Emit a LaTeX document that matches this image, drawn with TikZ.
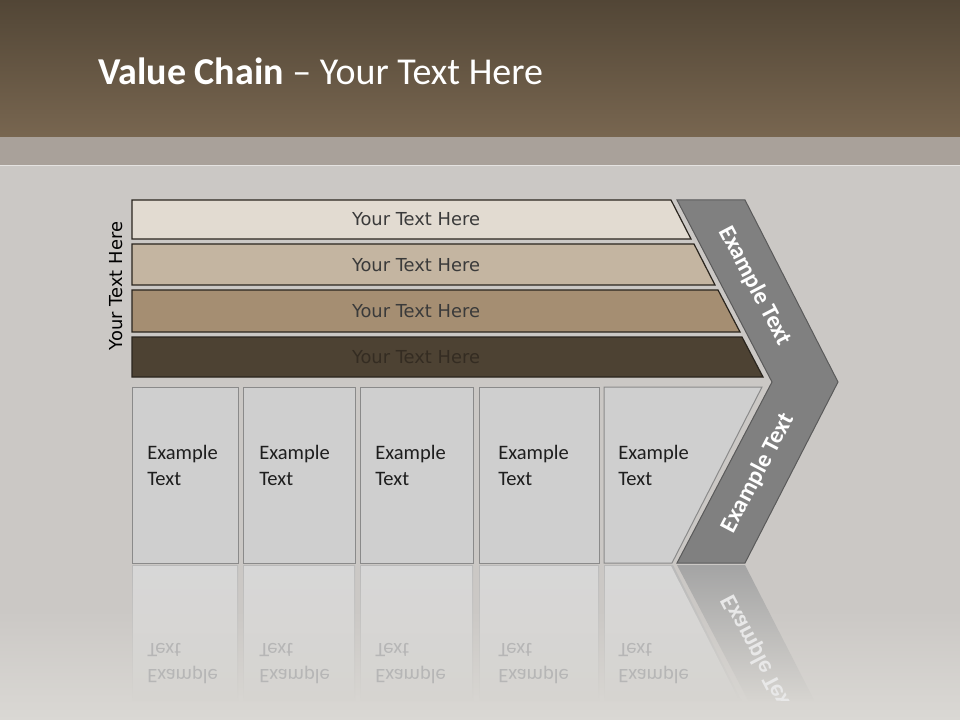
\documentclass[tikz,border=0pt]{standalone}
\usepackage{fontspec}
\setmainfont{Carlito}
\newfontfamily\verd{DejaVu Sans}
\usetikzlibrary{calc}
\definecolor{hdtop}{HTML}{524636}
\definecolor{hdbot}{HTML}{786650}
\definecolor{band}{HTML}{A9A19A}
\definecolor{bg}{HTML}{CBC8C5}
\definecolor{bgl}{HTML}{DAD8D4}
\definecolor{barA}{HTML}{E2DBD1}
\definecolor{barB}{HTML}{C4B5A1}
\definecolor{barC}{HTML}{A58E72}
\definecolor{barD}{HTML}{4D4233}
\definecolor{barln}{HTML}{2A251E}
\definecolor{bartx}{HTML}{3A3A3A}
\definecolor{bartxd}{HTML}{342C22}
\definecolor{boxf}{HTML}{CFCFCF}
\definecolor{boxln}{HTML}{8A8A8A}
\definecolor{boxtx}{HTML}{1E1E1E}
\definecolor{chev}{HTML}{808080}
\definecolor{chevln}{HTML}{5A5A5A}
\definecolor{refedge}{HTML}{B9B9B9}
\definecolor{reffill}{HTML}{D7D7D7}
\definecolor{refend}{HTML}{D6D4D0}
\definecolor{reftx}{HTML}{B6B6B6}
\definecolor{refchev}{HTML}{A4A4A4}
\tikzset{
  barshape/.style={draw=barln, line width=0.9pt},
  bartext/.style={font=\verd\fontsize{13.4}{16}\selectfont, text=bartx, inner sep=0pt},
  boxshape/.style={draw=boxln, fill=boxf, line width=0.75pt},
  boxtext/.style={font=\fontsize{15.4}{18}\selectfont, text=boxtx, anchor=base west, inner sep=0pt},
  reftext/.style={font=\fontsize{15.4}{18}\selectfont, text=reftx, anchor=base west, inner sep=0pt},
  chevtext/.style={font=\bfseries\fontsize{18}{21}\selectfont, text=white, inner sep=0pt},
}
\begin{document}
\begin{tikzpicture}[x=0.75pt,y=-0.75pt]
\useasboundingbox (0,0) rectangle (960,720);
% background
\fill[bg] (0,166) rectangle (960,720);
\shade[top color=bg, bottom color=bgl] (0,610) rectangle (960,720);
% header
\shade[top color=hdtop, bottom color=hdbot] (0,0) rectangle (960,137);
\fill[band] (0,137) rectangle (960,166);
\draw[white!70!band, line width=0.75pt] (0,166) -- (960,166);
\node[anchor=base west, text=white, font=\fontsize{28.5}{33}\selectfont, inner sep=0pt] (title) at (98,85) {\textbf{Value Chain} – Your Text Here};

% bars
\draw[barshape, fill=barA] (132,200) -- (671,200) -- (691,239) -- (132,239) -- cycle;
\draw[barshape, fill=barB] (132,244) -- (694,244) -- (715,285) -- (132,285) -- cycle;
\draw[barshape, fill=barC] (132,290) -- (718,290) -- (740,332) -- (132,332) -- cycle;
\draw[barshape, fill=barD] (132,337) -- (742,337) -- (763,377) -- (132,377) -- cycle;
\node[bartext] (t1) at (416,219.5) {Your Text Here};
\node[bartext] (t2) at (416,265.5) {Your Text Here};
\node[bartext] (t3) at (416,311) {Your Text Here};
\node[bartext, text=bartxd] (t4) at (416,357) {Your Text Here};
\node[bartext, text=black, rotate=90] (side) at (116,286) {Your Text Here};

% boxes
\draw[boxshape] (132,387) rectangle (238,563);
\draw[boxshape] (243,387) rectangle (355,563);
\draw[boxshape] (360,387) rectangle (473,563);
\draw[boxshape] (479,387) rectangle (599,563);
\draw[boxshape] (604,387) -- (762,387) -- (672,563) -- (604,563) -- cycle;
\foreach \x [count=\i] in {147,259,375,498,618}{
  \node[boxtext] (b\i a) at (\x,459) {Example};
  \node[boxtext] (b\i b) at (\x,485) {Text};
}

% chevron
\draw[fill=chev, draw=chevln, line width=0.75pt] (677,200) -- (745,200) -- (838,382) -- (745,563) -- (677,563) -- (772,382) -- cycle;
\node[chevtext, rotate=-62.4] (c1) at (755,286) {Example Text};
\node[chevtext, rotate=62.4] (c2) at (758,473) {Example Text};

% reflections
\foreach \l/\r in {132/238,243/355,360/473,479/599}{
  \shade[top color=refedge, bottom color=refend] (\l,565) rectangle (\r,700);
  \shade[top color=reffill, bottom color=refend] (\l+1,566) rectangle (\r-1,700);
}
\shade[top color=refedge, bottom color=refend] (604,565) -- (673,565) -- (741,700) -- (604,700) -- cycle;
\shade[top color=reffill, bottom color=refend] (605,566) -- (671,566) -- (739,700) -- (605,700) -- cycle;
\foreach \x [count=\i] in {147,259,375,498,618}{
  \node[reftext] (r\i a) at (\x,669) {\scalebox{1}[-1]{Example}};
  \node[reftext] (r\i b) at (\x,643) {\scalebox{1}[-1]{Text}};
}
\begin{scope}
  \clip (677,565) -- (745,565) -- (814,700) -- (748,700) -- cycle;
  \shade[top color=refchev, bottom color=refend] (677,565) rectangle (814,700);
  \node[chevtext, text=white!75!refchev, rotate=-62.4] (rc) at (758,655) {\scalebox{1}[-1]{Example Text}};
\end{scope}
\end{tikzpicture}
\end{document}
